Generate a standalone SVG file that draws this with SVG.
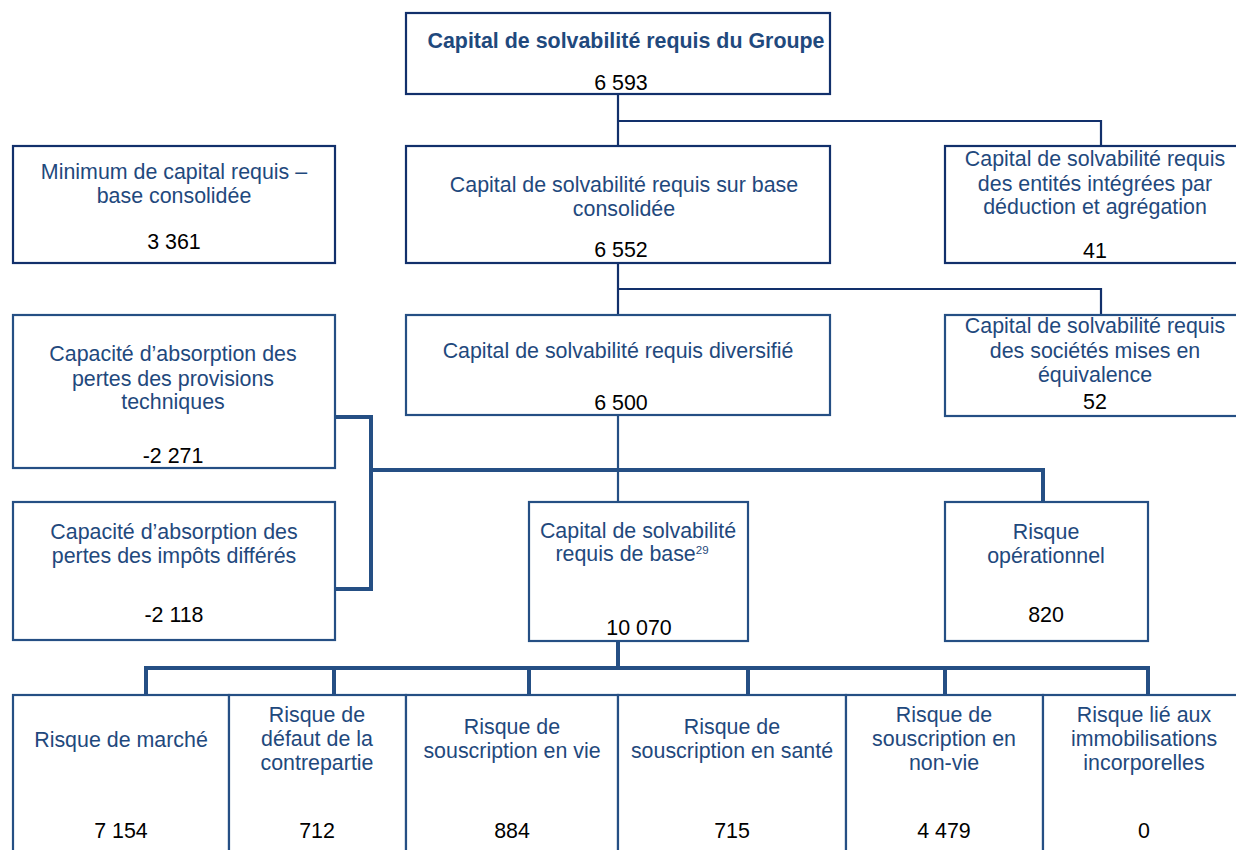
<svg xmlns="http://www.w3.org/2000/svg" width="1236" height="850" viewBox="0 0 1236 850">
<style>
.bx{fill:#fff;stroke:#254f84;stroke-width:2.2}
.bd{fill:#fff;stroke:#12306b;stroke-width:2.2}
.t{font-family:"Liberation Sans",Arial,sans-serif;font-size:21.4px;fill:#1f497d;text-anchor:middle}
.b{font-weight:bold}
.n{font-family:"Liberation Sans",Arial,sans-serif;font-size:21.4px;fill:#000;text-anchor:middle}
.cd{fill:none;stroke:#12306b;stroke-width:2.2}
.cn{fill:none;stroke:#254f84;stroke-width:2.2}
.ck{fill:none;stroke:#254f84;stroke-width:4}
</style>
<rect width="1236" height="850" fill="#fff"/>
<g id="connectors">
<path class="cd" d="M618 94V146M618 121H1101V146"/>
<path class="cd" d="M618 263V315M618 289H1101V315"/>
<path class="cn" d="M618 415V502"/>
<path class="ck" d="M335 417H371V589H335M371 470H1043V502"/>
<path class="ck" d="M618 641V668M146 695V668H1148V695M334 668V695M529 668V695M748 668V695M945 668V695"/>
</g>
<g id="n-groupe">
<rect class="bd" x="406" y="13" width="424" height="81"/>
<text class="t b" x="626" y="48">Capital de solvabilité requis du Groupe</text>
<text class="n" x="621" y="90">6 593</text>
</g>
<g id="n-mcr">
<rect class="bd" x="13" y="146" width="322" height="117"/>
<text class="t" x="174" y="179">Minimum de capital requis –</text>
<text class="t" x="174" y="203">base consolidée</text>
<text class="n" x="174" y="249">3 361</text>
</g>
<g id="n-conso">
<rect class="bd" x="406" y="146" width="424" height="117"/>
<text class="t" x="624" y="192">Capital de solvabilité requis sur base</text>
<text class="t" x="624" y="216">consolidée</text>
<text class="n" x="621" y="257">6 552</text>
</g>
<g id="n-deduction">
<rect class="bd" x="945" y="146" width="300" height="117"/>
<text class="t" x="1095" y="166">Capital de solvabilité requis</text>
<text class="t" x="1095" y="191">des entités intégrées par</text>
<text class="t" x="1095" y="214">déduction et agrégation</text>
<text class="n" x="1095" y="258">41</text>
</g>
<g id="n-provisions">
<rect class="bx" x="13" y="315" width="322" height="153"/>
<text class="t" x="173" y="361">Capacité d’absorption des</text>
<text class="t" x="173" y="386">pertes des provisions</text>
<text class="t" x="173" y="409">techniques</text>
<text class="n" x="173" y="463">-2 271</text>
</g>
<g id="n-diversifie">
<rect class="bx" x="406" y="315" width="424" height="100"/>
<text class="t" x="618" y="358">Capital de solvabilité requis diversifié</text>
<text class="n" x="621" y="410">6 500</text>
</g>
<g id="n-equivalence">
<rect class="bx" x="945" y="315" width="300" height="101"/>
<text class="t" x="1095" y="333">Capital de solvabilité requis</text>
<text class="t" x="1095" y="358">des sociétés mises en</text>
<text class="t" x="1095" y="382">équivalence</text>
<text class="n" x="1095" y="409">52</text>
</g>
<g id="n-impots">
<rect class="bx" x="13" y="502" width="322" height="138"/>
<text class="t" x="174" y="539">Capacité d’absorption des</text>
<text class="t" x="174" y="563">pertes des impôts différés</text>
<text class="n" x="174" y="622">-2 118</text>
</g>
<g id="n-base">
<rect class="bx" x="529" y="502" width="219" height="139"/>
<text class="t" x="638" y="538">Capital de solvabilité</text>
<text class="t" x="632" y="561">requis de base<tspan font-size="11.5" dy="-7">29</tspan></text>
<text class="n" x="639" y="635">10 070</text>
</g>
<g id="n-operationnel">
<rect class="bx" x="945" y="502" width="203" height="139"/>
<text class="t" x="1046" y="539">Risque</text>
<text class="t" x="1046" y="563">opérationnel</text>
<text class="n" x="1046" y="622">820</text>
</g>
<g id="n-marche">
<rect class="bx" x="13" y="695" width="216" height="170"/>
<text class="t" x="121" y="747">Risque de marché</text>
<text class="n" x="121" y="838">7 154</text>
</g>
<g id="n-defaut">
<rect class="bx" x="229" y="695" width="177" height="170"/>
<text class="t" x="317" y="722">Risque de</text>
<text class="t" x="317" y="746">défaut de la</text>
<text class="t" x="317" y="770">contrepartie</text>
<text class="n" x="317" y="838">712</text>
</g>
<g id="n-vie">
<rect class="bx" x="406" y="695" width="212" height="170"/>
<text class="t" x="512" y="734">Risque de</text>
<text class="t" x="512" y="758">souscription en vie</text>
<text class="n" x="512" y="838">884</text>
</g>
<g id="n-sante">
<rect class="bx" x="618" y="695" width="228" height="170"/>
<text class="t" x="732" y="734">Risque de</text>
<text class="t" x="732" y="758">souscription en santé</text>
<text class="n" x="732" y="838">715</text>
</g>
<g id="n-nonvie">
<rect class="bx" x="846" y="695" width="197" height="170"/>
<text class="t" x="944" y="722">Risque de</text>
<text class="t" x="944" y="746">souscription en</text>
<text class="t" x="944" y="770">non-vie</text>
<text class="n" x="944" y="838">4 479</text>
</g>
<g id="n-incorporelles">
<rect class="bx" x="1043" y="695" width="210" height="170"/>
<text class="t" x="1144" y="722">Risque lié aux</text>
<text class="t" x="1144" y="746">immobilisations</text>
<text class="t" x="1144" y="770">incorporelles</text>
<text class="n" x="1144" y="838">0</text>
</g>
</svg>
